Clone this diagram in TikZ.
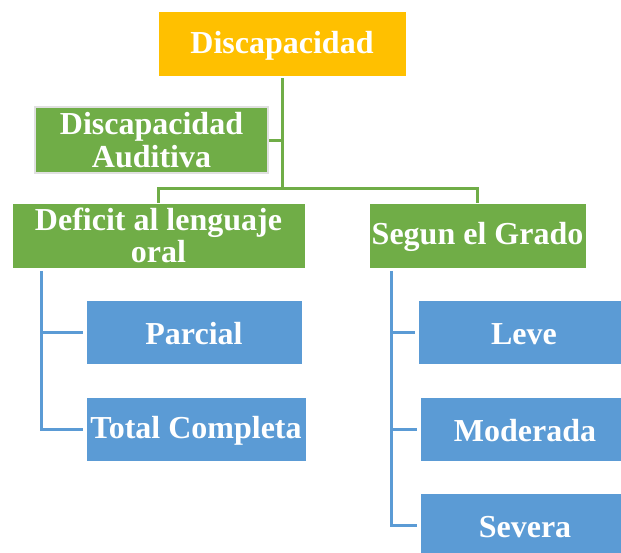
\documentclass[tikz,border=0pt]{standalone}
\usepackage{fontspec}
\setmainfont{Liberation Serif}
\definecolor{gold}{HTML}{FFC000}
\definecolor{leaf}{HTML}{70AD47}
\definecolor{sky}{HTML}{5B9BD5}
\begin{document}
\begin{tikzpicture}[x=1pt,y=-1pt,
  box/.style={draw=white,line width=0.8pt,text=white,font=\bfseries\fontsize{32}{32.5}\selectfont,align=center,inner sep=0pt,
    execute at begin node={\rule{0pt}{26pt}}},
  gline/.style={draw=leaf,line width=3pt},
  bline/.style={draw=sky,line width=3pt}]
\useasboundingbox (0,0) rectangle (621,552);
% boxes
\node[box,fill=gold,minimum width=248pt,minimum height=65pt] (top) at (282,43.5) {Discapacidad};
\node[box,fill=leaf,draw=black!12,line width=2pt,minimum width=233pt,minimum height=66pt] (aud) at (151.5,140) {Discapacidad\\Auditiva};
\node[box,fill=leaf,minimum width=293pt,minimum height=65pt] (def) at (158.5,235.5) {Deficit al lenguaje\\oral};
\node[box,fill=leaf,minimum width=217pt,minimum height=65pt] (seg) at (477.5,235.5) {Segun el Grado};
\node[box,fill=sky,minimum width=216pt,minimum height=64pt] (par) at (194,332) {Parcial};
\node[box,fill=sky,minimum width=220pt,minimum height=64pt] (tot) at (196,429) {Total Completa};
\node[box,fill=sky,minimum width=212pt,minimum height=64pt] (lev) at (524,332) {Leve};
\node[box,fill=sky,minimum width=210pt,minimum height=64pt] (mod) at (525,429) {Moderada};
\node[box,fill=sky,minimum width=210pt,minimum height=64pt] (sev) at (525,525) {Severa};
% coordinates
\coordinate (hub) at (282,188);
\coordinate (lj) at (41,271);
\coordinate (rj) at (391,271);
% connectors
\draw[gline] (top.south) ++(0,2) -- (hub);
\draw[gline] (aud.east) -- (aud.east -| hub);
\draw[gline] (def.north) -- (def.north |- hub) -- (seg.north |- hub) -- (seg.north);
\draw[bline] (lj) -- (lj |- tot.west) -- ([xshift=-3pt]tot.west);
\draw[bline] (lj |- par.west) -- ([xshift=-3pt]par.west);
\draw[bline] (rj) -- (rj |- sev.west) -- ([xshift=-3pt]sev.west);
\draw[bline] (rj |- lev.west) -- ([xshift=-3pt]lev.west);
\draw[bline] (rj |- mod.west) -- ([xshift=-3pt]mod.west);
\end{tikzpicture}
\end{document}
